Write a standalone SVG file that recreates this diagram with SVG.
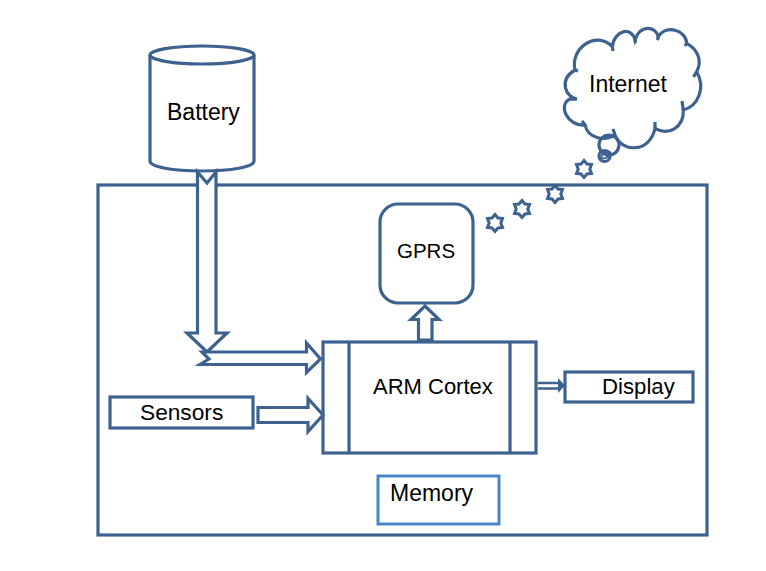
<svg xmlns="http://www.w3.org/2000/svg" width="766" height="571" viewBox="0 0 766 571">
<style>
.s{fill:#fff;stroke:#3d6290;stroke-width:3.200;stroke-linejoin:miter}
.n{fill:none;stroke:#3d6290;stroke-width:3.200}
.a{fill:#fff;stroke:#3d6290;stroke-width:3.200;stroke-linejoin:miter}
text{font-family:"Liberation Sans",Arial,sans-serif;font-size:22px;fill:#000}
</style>
<defs>
<polygon id="star" points="0,-8.500 3,-5 7.500,-4.500 5.800,0 7.500,4.500 3,5 0,8.500 -3,5 -7.500,4.500 -5.800,0 -7.500,-4.500 -3,-5" fill="none" stroke="#3d6290" stroke-width="3"/>
</defs>
<rect width="766" height="571" fill="#fff"/>
<g id="frame"><rect class="n" x="98" y="185" width="609" height="350"/></g>
<g id="battery">
<path class="s" d="M150,55 V161 C150,167 173,171 202,171 C231,171 254,167 254,161 V55"/>
<ellipse class="s" cx="202" cy="55" rx="52" ry="9"/>
<text x="167" y="120" style="font-size:23px">Battery</text>
</g>
<g id="internet">
<path class="s" d="M577,99 C566,98 558,80 575,70 C570,48 596,30 612.300,46.700 C614,30 632,26 635,40 C640,24 656,26 658.300,36.700 C666,24 686,30 686.700,43.300 C699,50 702,62 696.700,71.700 C706,88 698,106 683.300,110 C684,128 668,136 655,128.300 C650,153 622,153 615,135 C604,142 588,138 585,125 C566,126 558,104 570,99 Z"/>
<path class="n" d="M570,99 L577,99 M575,70 L578,71 M612.300,46.700 L613,51 M635,40 L635.500,43 M658.300,36.700 L657.500,40 M686.700,43.300 L685,46 M696.700,71.700 L693.500,77 M683.300,110 L682,101 M655,128.300 L655,122 M615,135 L613,129 M585,125 L582,121"/>
<text x="589" y="92" style="font-size:23px">Internet</text>
</g>
<g id="bubbles">
<circle class="n" cx="609" cy="145" r="10"/>
<circle class="n" cx="604.500" cy="156" r="5.500"/>
<ellipse class="n" cx="606" cy="155" rx="5" ry="2.500" transform="rotate(-30 606 155)" style="stroke-width:2"/>
<use href="#star" x="584" y="169"/>
<use href="#star" x="555" y="194"/>
<use href="#star" x="522" y="209"/>
<use href="#star" x="495" y="223"/>
</g>
<g id="gprs"><rect class="s" x="380" y="204" width="93" height="99" rx="18"/><text x="397" y="258" style="font-size:20.500px">GPRS</text></g>
<g id="arm">
<rect class="s" x="323" y="342" width="213" height="111"/>
<path class="n" d="M349,342 V453 M510,342 V453"/>
<text x="373" y="394">ARM Cortex</text>
</g>
<g id="sensors"><rect class="s" x="110" y="397" width="143" height="31"/><text x="140" y="420" style="font-size:22.700px">Sensors</text></g>
<g id="display"><rect class="s" x="565" y="372" width="128" height="30"/><text x="602" y="394" style="font-size:22.200px">Display</text></g>
<g id="memory"><rect x="378" y="476" width="121" height="48" fill="#fff" stroke="#4a86c5" stroke-width="3"/><text x="390" y="501" style="font-size:23px">Memory</text></g>
<g id="connectors">
<polygon class="a" points="197.500,172 207,183 216,172 216,333 227,333 207,352 187,333 197.500,333"/>
<polygon class="a" points="207,352 306.500,352 306.500,343 320.500,359 306.500,372.500 306.500,364.500 200,364.500 209,359 202,352"/>
<polygon class="a" points="258,407.500 308,407.500 308,398.500 323,415 308,431.500 308,422.500 258,422.500"/>
<polygon class="a" points="418.500,340 418.500,319.500 411,319.500 425,306 439,319.500 432,319.500 432,340"/>
<path class="n" d="M537.500,383 H558 M537.500,388.500 H558" style="stroke-width:2.600"/>
<polygon points="558,378 565,385.500 558,393" fill="#3d6290"/>
</g>
</svg>
